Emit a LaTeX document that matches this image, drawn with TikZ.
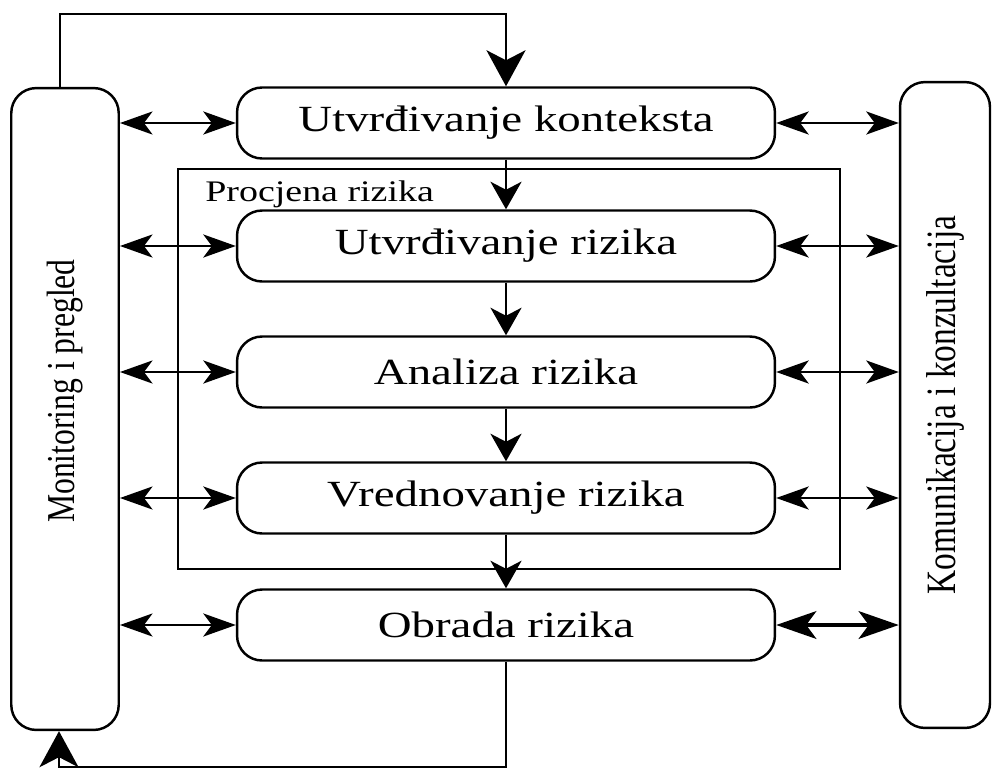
\documentclass[tikz,border=0pt]{standalone}
\usepackage{fontspec}
\setmainfont{Liberation Serif}
\usetikzlibrary{arrows.meta}
\tikzset{%
  tipA/.tip={Stealth[length=0.65cm,width=0.46cm,inset=0.17cm]},
  tipB/.tip={Stealth[length=0.72cm,width=0.78cm,inset=0.2cm]},
  tipC/.tip={Stealth[length=0.55cm,width=0.62cm,inset=0.16cm]},
  tipD/.tip={Stealth[length=0.8cm,width=0.55cm,inset=0.2cm]}
}
\newcommand{\hrazvuci}[1]{\scalebox{1.27}[1]{#1}}
\newcommand{\vrazvuci}[1]{\scalebox{1}[1.25]{#1}}

\begin{document}
\begin{tikzpicture}[x=0.02cm,y=-0.02cm,
    korak/.style={draw, line width=1.4pt, rounded corners=0.5cm,
      minimum width=10.76cm, minimum height=1.42cm,
      font=\fontsize{21}{25}\selectfont},
    stup/.style={draw, line width=1.4pt, rounded corners=0.5cm},
    veza/.style={line width=1.6pt, tipA-tipA},
    tok/.style={line width=1.6pt, -tipC}]
    \useasboundingbox (0,0) rectangle (1000,774);
    % bocni stupci
    \node[stup, minimum width=2.15cm, minimum height=12.84cm] (monitoring) at (65,409) {};
    \node[rotate=90, font=\fontsize{18}{22}\selectfont] (monitoringtxt) at (65,391) {\vrazvuci{Monitoring i pregled}};
    \node[stup, minimum width=1.8cm, minimum height=12.92cm] (komunikacija) at (945,405) {};
    \node[rotate=90, font=\fontsize{19}{23}\selectfont] (komunikacijatxt) at (komunikacija.center) {\vrazvuci{Komunikacija i konzultacija}};
    % okvir procjene
    \node[draw, line width=1.4pt, minimum width=13.24cm, minimum height=8cm] (procjena) at (509,369) {};
    \node[anchor=north west, inner sep=0pt, font=\fontsize{17}{20}\selectfont] (procjenatxt) at (205,180) {\hrazvuci{Procjena rizika}};
    % koraci
    \node[korak] (kontekst) at (506,123) {\hrazvuci{Utvrđivanje konteksta}};
    \node[korak] (utvrdjivanje) at (506,246) {\hrazvuci{Utvrđivanje rizika}};
    \node[korak] (analiza) at (506,372) {\hrazvuci{Analiza rizika}};
    \node[korak] (vrednovanje) at (506,498) {\hrazvuci{Vrednovanje rizika}};
    \node[korak] (obrada) at (506,625) {\hrazvuci{Obrada rizika}};
    % tok
    \draw[tok] (kontekst) -- (utvrdjivanje);
    \draw[tok] (utvrdjivanje) -- (analiza);
    \draw[tok] (analiza) -- (vrednovanje);
    \draw[tok] (vrednovanje) -- (obrada);
    % povratne petlje
    \coordinate (gore) at (506,14);
    \coordinate (dolje) at (506,767);
    \draw[line width=1.6pt, -tipB] ([xshift=-0.1cm]monitoring.north) |- (gore) -- (kontekst.north);
    \draw[line width=1.6pt, -tipB] (obrada.south) -- (dolje) -| ([xshift=-0.12cm]monitoring.south);
    % veze sa stupcima
    \foreach \k in {kontekst, utvrdjivanje, analiza, vrednovanje, obrada}{
      \draw[veza] (monitoring.east |- \k) -- (\k.west);
    }
    \foreach \k in {kontekst, utvrdjivanje, analiza, vrednovanje}{
      \draw[veza] (\k.east) -- (komunikacija.west |- \k);
    }
    \draw[line width=2.8pt, tipD-tipD] (obrada.east) -- (komunikacija.west |- obrada);
\end{tikzpicture}
\end{document}
